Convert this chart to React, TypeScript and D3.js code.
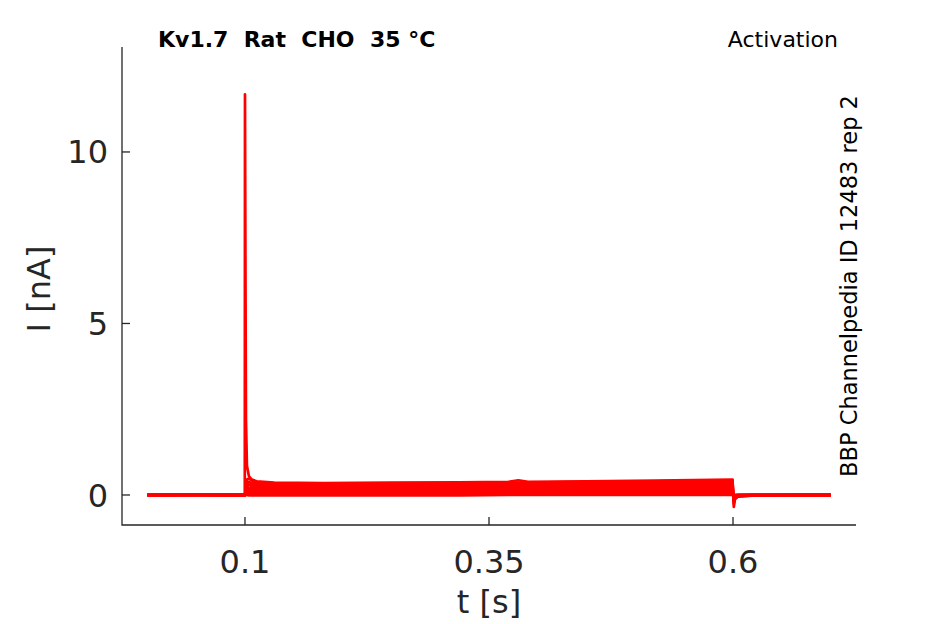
import * as d3 from "d3";

// sample times (s) shared by every sweep
const TIME = [
  0, 0.05, 0.0998, 0.1, 0.1005, 0.101, 0.102, 0.104, 0.107, 0.112, 0.13, 0.18, 0.25, 0.32,
  0.37, 0.38, 0.39, 0.45, 0.52, 0.58, 0.5995, 0.6, 0.6008, 0.602, 0.605, 0.62, 0.66, 0.7,
];

// current (nA) of each activation sweep at TIME
const SWEEPS: number[][] = [
  [0, 0.01, 0, 11.68, 6.5, 2.2, 0.85, 0.55, 0.45, 0.4, 0.36, 0.35, 0.36, 0.37, 0.38, 0.43, 0.38, 0.4, 0.42, 0.44, 0.45, 0.1, -0.35, -0.12, -0.05, -0.02, 0, 0],
  [0, 0, 0, 0.02, 0.1, 0.25, 0.45, 0.48, 0.42, 0.36, 0.33, 0.33, 0.34, 0.35, 0.36, 0.36, 0.36, 0.38, 0.4, 0.42, 0.43, 0.08, -0.25, -0.1, -0.04, -0.01, 0, 0],
  [0, 0.01, 0, 0.02, 0.08, 0.18, 0.32, 0.38, 0.35, 0.32, 0.3, 0.3, 0.31, 0.32, 0.33, 0.33, 0.33, 0.35, 0.37, 0.39, 0.4, 0.06, -0.2, -0.08, -0.03, -0.01, 0, 0],
  [0, 0, 0, 0.01, 0.05, 0.12, 0.22, 0.3, 0.3, 0.28, 0.27, 0.27, 0.28, 0.29, 0.3, 0.3, 0.3, 0.32, 0.34, 0.35, 0.36, 0.05, -0.16, -0.06, -0.02, 0, 0, 0],
  [0, 0, 0, 0.01, 0.03, 0.06, 0.12, 0.2, 0.24, 0.24, 0.24, 0.24, 0.25, 0.26, 0.27, 0.27, 0.27, 0.29, 0.3, 0.31, 0.32, 0.04, -0.12, -0.05, -0.02, 0, 0, 0],
  [0, 0.01, 0, 0.01, 0.02, 0.04, 0.08, 0.14, 0.19, 0.21, 0.21, 0.21, 0.22, 0.23, 0.23, 0.24, 0.24, 0.25, 0.26, 0.27, 0.28, 0.03, -0.1, -0.04, -0.01, 0, 0, 0],
  [0, 0, 0, 0, 0.02, 0.03, 0.05, 0.1, 0.15, 0.17, 0.18, 0.18, 0.19, 0.19, 0.2, 0.2, 0.2, 0.21, 0.22, 0.23, 0.24, 0.02, -0.08, -0.03, -0.01, 0, 0, 0],
  [0, 0, 0, 0, 0.01, 0.02, 0.04, 0.07, 0.11, 0.14, 0.15, 0.15, 0.15, 0.16, 0.16, 0.17, 0.17, 0.18, 0.18, 0.19, 0.2, 0.02, -0.06, -0.02, -0.01, 0, 0, 0],
  [0, 0, 0, 0, 0.01, 0.02, 0.03, 0.05, 0.08, 0.1, 0.12, 0.12, 0.12, 0.13, 0.13, 0.13, 0.13, 0.14, 0.15, 0.15, 0.16, 0.01, -0.05, -0.02, 0, 0, 0, 0],
  [0, 0.01, 0, 0, 0.01, 0.01, 0.02, 0.04, 0.06, 0.08, 0.09, 0.09, 0.09, 0.1, 0.1, 0.1, 0.1, 0.11, 0.11, 0.12, 0.12, 0.01, -0.04, -0.01, 0, 0, 0, 0],
  [0, 0, 0, 0, 0.01, 0.01, 0.02, 0.03, 0.04, 0.05, 0.06, 0.06, 0.06, 0.07, 0.07, 0.07, 0.07, 0.07, 0.08, 0.08, 0.08, 0.01, -0.03, -0.01, 0, 0, 0, 0],
  [0, 0, 0, 0, 0, 0.01, 0.01, 0.02, 0.02, 0.03, 0.03, 0.03, 0.03, 0.04, 0.04, 0.04, 0.04, 0.04, 0.04, 0.05, 0.05, 0, -0.02, -0.01, 0, 0, 0, 0],
  [0, 0, 0, 0, 0, 0, 0.01, 0.01, 0.01, 0.01, 0.01, 0.01, 0.01, 0.01, 0.01, 0.01, 0.01, 0.02, 0.02, 0.02, 0.02, 0, -0.01, 0, 0, 0, 0, 0],
  [0, 0, 0, 0, 0, 0, 0, -0.01, -0.01, -0.01, -0.01, -0.01, -0.01, -0.01, 0, 0, 0, 0, 0, 0, 0, 0, 0, 0, 0, 0, 0, 0],
];

const X_TICKS = [0.1, 0.35, 0.6];
const Y_TICKS = [0, 5, 10];

const TITLE = "Kv1.7  Rat  CHO  35 °C";
const PROTOCOL = "Activation";
const SOURCE = "BBP Channelpedia ID 12483 rep 2";

const W = 945;
const H = 624;
const FONT = "DejaVu Sans, sans-serif";
const INK = "#262626";

export default function App() {
  const x = d3.scaleLinear().domain([-0.026, 0.726]).range([122, 856]);
  const y = d3.scaleLinear().domain([-0.875, 13.06]).range([525, 47]);

  const line = d3
    .line<number>()
    .x((_, i) => x(TIME[i]))
    .y((d) => y(d));

  const [x0, x1] = x.range();
  const [yBottom, yTop] = y.range();

  return (
    <div style={{ position: "absolute", left: 0, top: 0 }}>
      <svg width={W} height={H} style={{ display: "block", background: "#fff" }}>
        {/* sweeps */}
        <g fill="none" stroke="#ff0000" strokeWidth={2.7} strokeLinejoin="round">
          {SWEEPS.map((s, k) => (
            <path key={k} d={line(s) || ""} />
          ))}
        </g>

        {/* axes */}
        <g stroke={INK} strokeWidth={1.3} fill="none">
          <path d={`M${x0},${yTop}V${yBottom}H${x1}`} />
          {X_TICKS.map((t) => (
            <line key={t} x1={x(t)} x2={x(t)} y1={yBottom} y2={yBottom - 8} />
          ))}
          {Y_TICKS.map((t) => (
            <line key={t} x1={x0} x2={x0 + 8} y1={y(t)} y2={y(t)} />
          ))}
        </g>

        <g fontFamily={FONT} fill={INK} fontSize={32}>
          {X_TICKS.map((t) => (
            <text key={t} x={x(t)} y={573} textAnchor="middle">
              {String(t)}
            </text>
          ))}
          {Y_TICKS.map((t) => (
            <text key={t} x={108} y={y(t)} dy="0.36em" textAnchor="end">
              {String(t)}
            </text>
          ))}
        </g>

        <text x={(x0 + x1) / 2} y={613} textAnchor="middle" fontFamily={FONT} fontSize={32} fill={INK}>
          t [s]
        </text>
        <text
          transform={`translate(50,289) rotate(-90)`}
          textAnchor="middle"
          fontFamily={FONT}
          fontSize={32}
          fill={INK}
        >
          I [nA]
        </text>

        <text x={158} y={47} fontFamily={FONT} fontSize={22} fontWeight="bold" fill="#000" style={{ whiteSpace: "pre" }}>
          {TITLE}
        </text>
        <text x={838} y={47} textAnchor="end" fontFamily={FONT} fontSize={22} fill="#000">
          {PROTOCOL}
        </text>
        <text
          transform={`translate(857,286) rotate(-90)`}
          textAnchor="middle"
          fontFamily={FONT}
          fontSize={22.5}
          fill="#000"
        >
          {SOURCE}
        </text>
      </svg>
    </div>
  );
}
